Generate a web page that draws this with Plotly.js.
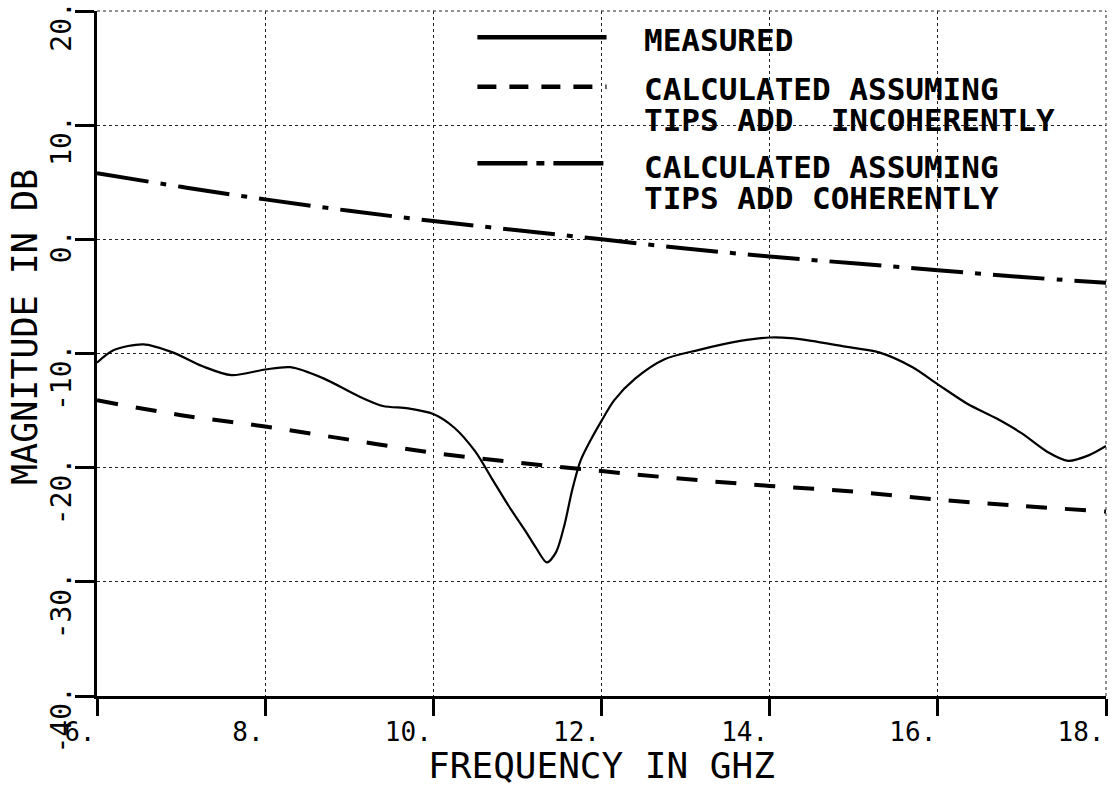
<!DOCTYPE html>
<html>
<head>
<meta charset="utf-8">
<script src="https://cdn.plot.ly/plotly-3.0.1.min.js"></script>
<style>
  html, body { margin: 0; padding: 0; background: #ffffff; }
  #chart { width: 1114px; height: 786px; }
</style>
</head>
<body>
<div id="chart"></div>
<script>
// ---- data ----
var measuredFreq = [6.0, 6.2, 6.55, 6.9, 7.25, 7.6, 8.0, 8.3, 8.7, 9.1, 9.4, 9.7, 10.0, 10.25, 10.5, 10.7, 10.9, 11.1, 11.22, 11.35, 11.46, 11.56, 11.65, 11.75, 11.87, 12.0, 12.15, 12.4, 12.75, 13.15, 13.65, 14.0, 14.25, 14.5, 14.9, 15.3, 15.7, 16.0, 16.35, 16.7, 17.0, 17.3, 17.55, 17.8, 18.0];
var measuredDb = [-10.8, -9.7, -9.2, -9.9, -11.1, -11.9, -11.4, -11.2, -12.2, -13.7, -14.6, -14.8, -15.3, -16.5, -18.6, -21.0, -23.4, -25.6, -27.0, -28.3, -27.4, -25.0, -22.0, -19.4, -17.6, -15.9, -14.1, -12.2, -10.5, -9.7, -8.9, -8.6, -8.65, -8.9, -9.4, -9.9, -11.2, -12.7, -14.4, -15.7, -17.0, -18.6, -19.4, -18.9, -18.1];

var calcFreq = [6, 7, 8, 9, 10, 11, 12, 13, 14, 15, 16, 17, 18];
var incoherentDb = [-14.1, -15.4, -16.4, -17.55, -18.7, -19.55, -20.3, -21.0, -21.6, -22.1, -22.8, -23.35, -23.85];
var coherentDb = [5.8, 4.6, 3.5, 2.5, 1.6, 0.8, 0.0, -0.8, -1.5, -2.1, -2.7, -3.3, -3.8];

var xTickVals = [6, 8, 10, 12, 14, 16, 18];
var xTickLabels = ['6.', '8.', '10.', '12.', '14.', '16.', '18.'];
var yTickVals = [-40, -30, -20, -10, 0, 10, 20];
var yTickLabels = ['-40.', '-30.', '-20.', '-10.', '0.', '10.', '20.'];

var legendNames = ['MEASURED', 'CALCULATED ASSUMING', 'TIPS ADD\u00a0\u00a0INCOHERENTLY', 'CALCULATED ASSUMING', 'TIPS ADD COHERENTLY'];
var xTitle = 'FREQUENCY IN GHZ';
var yTitle = 'MAGNITUDE IN DB';

// ---- layout helpers ----
// Labels are left-padded to a common length so that a single shift puts
// the trailing "." next to each tick, as on the plotter original.
var NB = '\u00a0';
function padLeft(s, n) { var out = s; while (out.length < n) out = NB + out; return out; }
var xTickText = xTickLabels.map(function (s) { return padLeft(s, 3); });
var yTickText = yTickLabels.map(function (s) { return padLeft(s, 4); });

var mono = 'DejaVu Sans Mono, Liberation Mono, monospace';

var traces = [
  { x: measuredFreq, y: measuredDb, type: 'scatter', mode: 'lines', name: 'MEASURED',
    line: { color: '#000', width: 2.2, shape: 'spline', smoothing: 0.8 }, hoverinfo: 'skip' },
  { x: calcFreq, y: incoherentDb, type: 'scatter', mode: 'lines', name: 'INCOHERENT',
    line: { color: '#000', width: 4, dash: '21px,18px', shape: 'spline' }, hoverinfo: 'skip' },
  { x: calcFreq, y: coherentDb, type: 'scatter', mode: 'lines', name: 'COHERENT',
    line: { color: '#000', width: 4, dash: '52px,12px,6px,12px', shape: 'spline' }, hoverinfo: 'skip' }
];

// legend positions (paper coordinates)
var legX0 = 0.377, legX1 = 0.505, legTextX = 0.541;
var legLineY = [0.9616, 0.8895, 0.7777];
var legTextY = [0.957, 0.886, 0.841, 0.7723, 0.727];
var legDash = ['solid', '19px,13px', '50px,9px,8px,9px'];

var shapes = [
  // dotted top and right frame
  { type: 'line', xref: 'paper', yref: 'paper', x0: 0, x1: 1, y0: 1, y1: 1, line: { color: '#222', width: 1, dash: 'dot' } },
  { type: 'line', xref: 'paper', yref: 'paper', x0: 1, x1: 1, y0: 0, y1: 1, line: { color: '#222', width: 1, dash: 'dot' } }
];
for (var i = 0; i < 3; i++) {
  shapes.push({ type: 'line', xref: 'paper', yref: 'paper', x0: legX0, x1: legX1, y0: legLineY[i], y1: legLineY[i],
    line: { color: '#000', width: 4.5, dash: legDash[i] } });
}

var annotations = legendNames.map(function (t, k) {
  return { xref: 'paper', yref: 'paper', x: legTextX, y: legTextY[k], xanchor: 'left', yanchor: 'middle',
    text: t, showarrow: false, borderpad: 0, font: { family: mono, size: 31, color: '#000', weight: 'bold' } };
});
annotations.push({ xref: 'paper', yref: 'paper', x: -0.0714, y: 0.5387, xanchor: 'center', yanchor: 'middle',
  textangle: -90, text: yTitle, showarrow: false, font: { family: mono, size: 35, color: '#000' } });

var layout = {
  width: 1114, height: 786,
  margin: { l: 97, r: 8, t: 11, b: 90 },
  paper_bgcolor: '#fff', plot_bgcolor: '#fff',
  showlegend: false,
  xaxis: {
    range: [6, 18], tickmode: 'array', tickvals: xTickVals, ticktext: xTickText,
    ticks: 'outside', ticklen: 17, tickwidth: 3, tickcolor: '#000',
    ticklabeloverflow: 'allow', ticklabelstandoff: -6, ticklabelshift: -25,
    showline: true, linewidth: 3, linecolor: '#000',
    showgrid: true, gridcolor: '#222', gridwidth: 1, griddash: 'dot', zeroline: false,
    tickfont: { family: mono, size: 26, color: '#000' },
    title: { text: xTitle, font: { family: mono, size: 36, color: '#000' }, standoff: 8 }
  },
  yaxis: {
    range: [-40, 20], tickmode: 'array', tickvals: yTickVals, ticktext: yTickText,
    tickangle: -90,
    ticks: 'outside', ticklen: 19, tickwidth: 3, tickcolor: '#000',
    ticklabeloverflow: 'allow', ticklabelstandoff: -7, ticklabelshift: 28,
    showline: true, linewidth: 3, linecolor: '#000',
    showgrid: true, gridcolor: '#222', gridwidth: 1, griddash: 'dot', zeroline: false,
    tickfont: { family: mono, size: 28, color: '#000' }
  },
  shapes: shapes,
  annotations: annotations
};

Plotly.newPlot('chart', traces, layout, { displayModeBar: false, staticPlot: true });
</script>
</body>
</html>
